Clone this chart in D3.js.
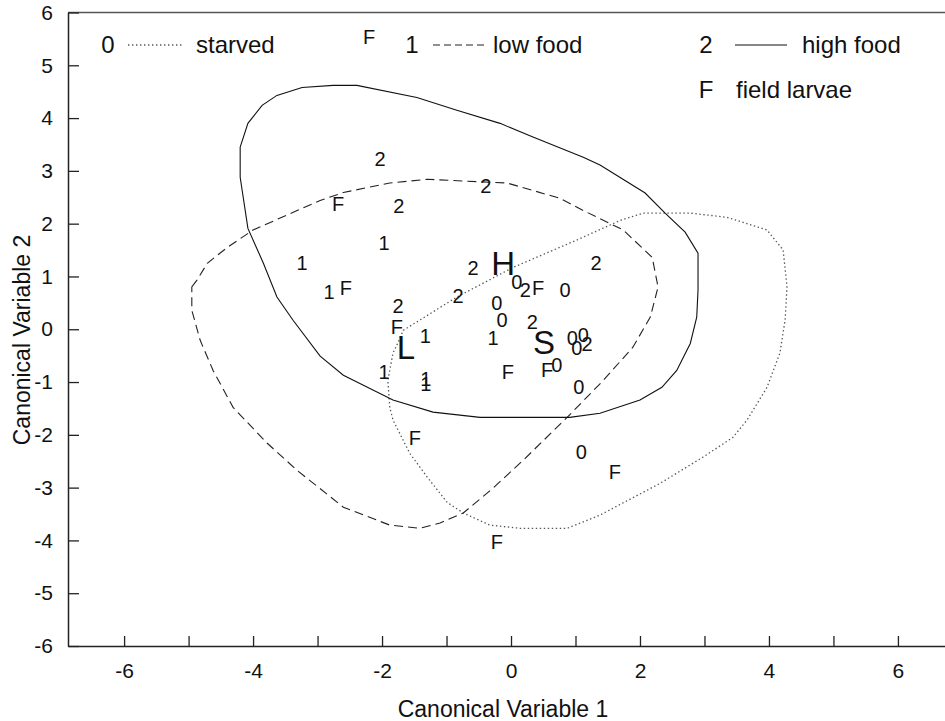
<!DOCTYPE html>
<html><head><meta charset="utf-8">
<script src="https://cdn.jsdelivr.net/npm/d3@7"></script>
<style>body{margin:0;background:#fff}svg{display:block}text{font-family:"Liberation Sans",Arial,sans-serif;fill:#111}</style>
</head><body><svg id="c" width="945" height="721"></svg>
<script>
// ---- data ----
const starvedPts = [[0.09,0.89],[0.84,0.74],[-0.22,0.49],[-0.14,0.17],[0.95,-0.17],[1.12,-0.11],[1.02,-0.36],[0.71,-0.68],[1.05,-1.10],[1.09,-2.33]];
const lowFoodPts = [[-1.97,1.63],[-3.24,1.25],[-2.82,0.70],[-1.33,-0.13],[-0.28,-0.17],[-1.97,-0.81],[-1.32,-0.95],[-1.32,-1.04]];
const highFoodPts = [[-2.03,3.22],[-0.39,2.71],[-1.74,2.33],[1.32,1.25],[-0.59,1.16],[-0.82,0.63],[0.22,0.74],[-1.75,0.44],[0.33,0.13],[1.18,-0.27]];
const fieldPts = [[-2.20,5.53],[-2.68,2.37],[-2.56,0.78],[0.42,0.78],[-1.77,0.04],[-0.05,-0.81],[0.56,-0.78],[-1.49,-2.06],[1.61,-2.71],[-0.22,-4.03]];
const centroids = [{label:"H",x:-0.12,y:1.25},{label:"L",x:-1.63,y:-0.34},{label:"S",x:0.51,y:-0.25}];

const highFoodContour = [[-4.20,3.45],[-4.08,3.90],[-3.86,4.24],[-3.63,4.43],[-3.24,4.58],[-2.76,4.62],[-2.39,4.62],[-1.46,4.39],[-0.84,4.15],[-0.17,3.90],[0.34,3.64],[1.12,3.26],[1.38,3.11],[2.08,2.58],[2.39,2.20],[2.70,1.84],[2.90,1.44],[2.90,0.74],[2.88,0.23],[2.78,-0.27],[2.57,-0.78],[2.34,-1.10],[2.00,-1.34],[1.38,-1.59],[0.91,-1.67],[-0.48,-1.67],[-1.21,-1.57],[-1.83,-1.34],[-2.60,-0.87],[-2.96,-0.51],[-3.38,0.17],[-3.63,0.61],[-3.84,1.25],[-4.08,1.91],[-4.20,2.88]];
const lowFoodContour = [[-4.95,0.80],[-4.87,0.93],[-4.71,1.25],[-4.40,1.55],[-4.00,1.88],[-2.96,2.44],[-2.60,2.59],[-1.88,2.77],[-1.30,2.84],[-0.95,2.82],[-0.06,2.77],[0.76,2.48],[1.12,2.25],[1.74,1.88],[2.19,1.36],[2.28,0.80],[2.16,0.23],[1.89,-0.34],[1.43,-0.97],[0.87,-1.67],[0.19,-2.48],[-0.28,-3.01],[-0.74,-3.48],[-1.10,-3.67],[-1.41,-3.77],[-1.88,-3.71],[-2.60,-3.37],[-3.32,-2.67],[-3.78,-2.16],[-4.31,-1.48],[-4.62,-0.78],[-4.82,-0.21],[-4.95,0.36]];
const starvedContour = [[-1.77,-0.30],[-1.67,-0.02],[-0.84,0.61],[0.03,1.17],[1.02,1.69],[1.69,2.06],[2.05,2.20],[2.78,2.20],[3.35,2.12],[3.97,1.88],[4.22,1.50],[4.28,0.80],[4.25,0.17],[4.17,-0.45],[3.97,-1.10],[3.66,-1.72],[3.44,-2.05],[2.98,-2.42],[2.31,-2.92],[1.38,-3.52],[0.87,-3.77],[0.14,-3.77],[-0.33,-3.71],[-0.74,-3.48],[-0.99,-3.28],[-1.30,-2.80],[-1.57,-2.35],[-1.83,-1.72],[-1.88,-1.48],[-1.91,-0.97],[-1.83,-0.45]];

const xTicks = [-6,-5,-4,-3,-2,-1,0,1,2,3,4,5,6];
const yTicks = [-6,-5,-4,-3,-2,-1,0,1,2,3,4,5,6];
const legendCodes = ["0","1","2","F"];
const legendNames = ["starved","low food","high food","field larvae"];

// ---- chart ----
const svg = d3.select("#c");
const x = d3.scaleLinear().domain([-6.87, 6.73]).range([68, 945]);
const y = d3.scaleLinear().domain([-6, 6]).range([646, 12.5]);

const styles = {
  starved: {dash:"1.4,2.6", color:"#555", w:1.3},
  low: {dash:"9,5", color:"#222", w:1.1},
  high: {dash:null, color:"#111", w:1.1}
};

// top border
svg.append("line").attr("x1",68).attr("x2",945).attr("y1",y(6)).attr("y2",y(6)).attr("stroke","#555").attr("stroke-width",1.5);

const fmt = d => String(d);
const xAxis = svg.append("g").attr("transform",`translate(0,${y(-6)})`)
  .call(d3.axisBottom(x).tickValues(xTicks).tickSizeInner(-10).tickSizeOuter(0).tickPadding(17)
    .tickFormat(d => d % 2 === 0 ? fmt(d) : ""));
xAxis.select(".domain").attr("stroke","#222").attr("stroke-width",1.5);
xAxis.selectAll(".tick line").attr("stroke","#222").attr("stroke-width",1.3);
xAxis.selectAll(".tick text").attr("font-size",21).attr("fill","#111").attr("font-family","Liberation Sans, Arial, sans-serif");

const yAxis = svg.append("g").attr("transform",`translate(68,0)`)
  .call(d3.axisLeft(y).tickValues(yTicks).tickSizeInner(-11).tickSizeOuter(0).tickPadding(15).tickFormat(fmt));
yAxis.select(".domain").attr("stroke","#222").attr("stroke-width",1.5);
yAxis.selectAll(".tick line").attr("stroke","#222").attr("stroke-width",1.3);
yAxis.selectAll(".tick text").attr("font-size",21).attr("fill","#111").attr("font-family","Liberation Sans, Arial, sans-serif");

// axis titles
svg.append("text").attr("x",503).attr("y",717).attr("text-anchor","middle").attr("font-size",23).text("Canonical Variable 1");
svg.append("text").attr("transform","translate(30,340) rotate(-90)").attr("text-anchor","middle").attr("font-size",23).text("Canonical Variable 2");

// contours
const line = d3.line().x(d => x(d[0])).y(d => y(d[1])).curve(d3.curveLinearClosed);
function contour(pts, st){
  const p = svg.append("path").attr("d", line(pts)).attr("fill","none")
    .attr("stroke", st.color).attr("stroke-width", st.w);
  if (st.dash) p.attr("stroke-dasharray", st.dash);
}
contour(starvedContour, styles.starved);
contour(lowFoodContour, styles.low);
contour(highFoodContour, styles.high);

// points
function pts(arr, label){
  svg.append("g").selectAll("text").data(arr).join("text")
    .attr("x", d => x(d[0])).attr("y", d => y(d[1]))
    .attr("text-anchor","middle").attr("dominant-baseline","central")
    .attr("font-size",20).text(label);
}
pts(starvedPts,"0"); pts(lowFoodPts,"1"); pts(highFoodPts,"2"); pts(fieldPts,"F");

svg.append("g").selectAll("text").data(centroids).join("text")
  .attr("x", d => x(d.x)).attr("y", d => y(d.y))
  .attr("text-anchor","middle").attr("dominant-baseline","central")
  .attr("font-size",33).text(d => d.label);

// legend
const leg = svg.append("g");
const legItems = [
  {code:legendCodes[0], name:legendNames[0], cx:108, ly:53, l1:128, l2:183, tx:196, st:styles.starved},
  {code:legendCodes[1], name:legendNames[1], cx:412, ly:53, l1:433, l2:486, tx:493, st:styles.low},
  {code:legendCodes[2], name:legendNames[2], cx:706, ly:53, l1:735, l2:787, tx:802, st:styles.high},
  {code:legendCodes[3], name:legendNames[3], cx:706, ly:98, l1:null, l2:null, tx:736, st:null}
];
legItems.forEach(it => {
  leg.append("text").attr("x",it.cx).attr("y",it.ly).attr("text-anchor","middle").attr("font-size",24).text(it.code);
  if (it.st){
    const l = leg.append("line").attr("x1",it.l1).attr("x2",it.l2).attr("y1",it.ly-8).attr("y2",it.ly-8)
      .attr("stroke",it.st.color).attr("stroke-width",it.st.w);
    if (it.st.dash) l.attr("stroke-dasharray", it.st.dash === "9,5" ? "7,4" : it.st.dash);
  }
  leg.append("text").attr("x",it.tx).attr("y",it.ly).attr("font-size",24).text(it.name);
});
</script></body></html>
